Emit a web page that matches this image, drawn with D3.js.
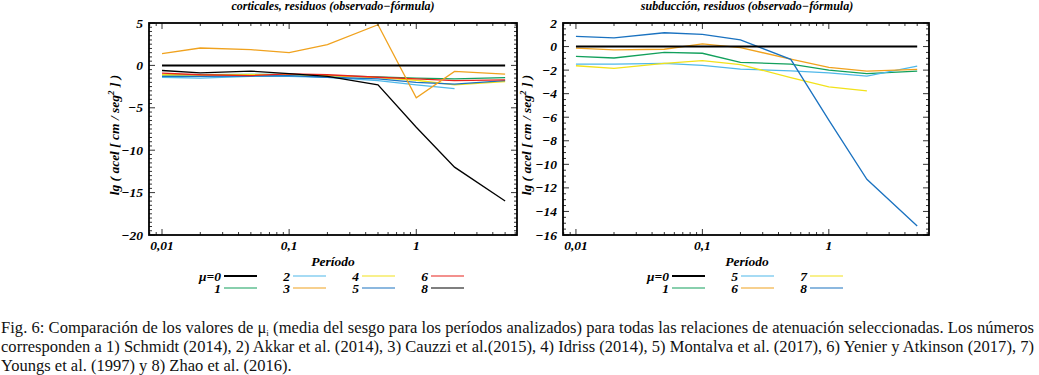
<!DOCTYPE html>
<html>
<head>
<meta charset="utf-8">
<script src="https://cdn.jsdelivr.net/npm/d3@7"></script>
<style>
  body { margin: 0; background: #fff; }
</style>
</head>
<body>
<svg id="body" width="1039" height="375"></svg>
<script>
// periodos (s)
let periodos = [0.01, 0.02, 0.05, 0.1, 0.2, 0.5, 1, 2, 5];

// corticales
let cort0 = [0, 0, 0, 0, 0, 0, 0, 0, 0];
let cort1 = [-1.1, -1.1, -1.05, -1.05, -1.2, -1.35, -1.5, -1.6, -1.45];
let cort2 = [-1.4, -1.5, -1.3, -1.3, -1.4, -1.8, -2.3, -2.75];
let cort3 = [1.38, 2.05, 1.85, 1.5, 2.44, 4.8, -3.82, -0.71, -1.02];
let cort4 = [-1.1, -1.15, -1.1, -1.1, -1.2, -1.45, -1.75, -2.3, -1.9];
let cort5 = [-1.3, -1.3, -1.25, -1.2, -1.4, -1.6, -2.0, -2.2, -1.8];
let cort6 = [-0.9, -1.1, -1.2, -1.0, -1.1, -1.4, -1.6, -1.8, -1.7];
let cort8 = [-0.6, -0.87, -0.67, -0.98, -1.3, -2.28, -7.3, -12.0, -16.0];

// subduccion
let sub0 = [0, 0, 0, 0, 0, 0, 0, 0, 0];
let sub1 = [-0.83, -0.97, -0.49, -0.57, -1.34, -1.49, -2.0, -2.29, -2.09];
let sub5 = [-1.49, -1.49, -1.43, -1.6, -1.91, -2.06, -2.23, -2.51, -1.66];
let sub6 = [-0.14, -0.29, -0.23, 0.23, -0.09, -1.06, -1.77, -2.09, -1.94];
let sub7 = [-1.63, -1.86, -1.43, -1.2, -1.54, -2.63, -3.43, -3.77];
let sub8 = [0.86, 0.74, 1.17, 1.03, 0.57, -1.09, -6.25, -11.27, -15.23];

let colores = {
    "0": "#000000", "1": "#12a05c", "2": "#4fb8ea", "3": "#f0a21e",
    "4": "#f2e21a", "5": "#1a72c0", "6": "#e8231c", "7": "#f2e21a", "8": "#000000"
};
let coloresSub = { "0": "#000000", "1": "#12a05c", "5": "#4fb8ea", "6": "#f0a21e", "7": "#f2e21a", "8": "#1a72c0" };

let serif = "'Liberation Serif', 'Times New Roman', serif";
let svg = d3.select("#body");
svg.append("rect").attr("width", 1039).attr("height", 375).attr("fill", "#fff");

// texto en negrita cursiva
function lab(sel) {
    return sel.append("text")
        .style("font-family", serif)
        .style("font-weight", "bold")
        .style("font-style", "italic");
}

function panel(cfg) {
    let x = d3.scaleLog().domain([0.0079, 6.2]).range([cfg.x0, cfg.x1]);
    let y = d3.scaleLinear().domain(cfg.ydom).range([235, 23]);
    let g = svg.append("g");

    // lineas
    let line = d3.line().x((d, i) => x(periodos[i])).y(d => y(d));
    cfg.series.forEach(s => {
        g.append("path")
            .datum(s.vals)
            .attr("d", line)
            .attr("fill", "none")
            .attr("stroke", s.color)
            .attr("stroke-width", s.w || 1.3);
    });

    // ticks
    let majX = [0.01, 0.1, 1];
    let minX = [];
    [0.001, 0.01, 0.1, 1].forEach(dec => {
        for (let k = 2; k <= 9; k++) {
            let v = dec * k;
            if (v > 0.0079 && v < 6.2) minX.push(v);
        }
    });
    let ticks = g.append("g").attr("stroke", "#000").attr("stroke-width", 0.8);
    majX.forEach(v => {
        ticks.append("line").attr("x1", x(v)).attr("x2", x(v)).attr("y1", 235).attr("y2", 229);
        ticks.append("line").attr("x1", x(v)).attr("x2", x(v)).attr("y1", 23).attr("y2", 29);
    });
    minX.forEach(v => {
        ticks.append("line").attr("x1", x(v)).attr("x2", x(v)).attr("y1", 235).attr("y2", 232);
        ticks.append("line").attr("x1", x(v)).attr("x2", x(v)).attr("y1", 23).attr("y2", 26);
    });
    d3.range(cfg.ydom[0], cfg.ydom[1] + 0.001, cfg.minorStep).forEach(v => {
        let major = cfg.yticks.some(t => Math.abs(t - v) < 1e-6);
        let len = major ? 6 : 3;
        ticks.append("line").attr("x1", cfg.x0).attr("x2", cfg.x0 + len).attr("y1", y(v)).attr("y2", y(v));
        ticks.append("line").attr("x1", cfg.x1).attr("x2", cfg.x1 - len).attr("y1", y(v)).attr("y2", y(v));
    });

    // marco
    g.append("rect")
        .attr("x", cfg.x0).attr("y", 23)
        .attr("width", cfg.x1 - cfg.x0).attr("height", 212)
        .attr("fill", "none").attr("stroke", "#000").attr("stroke-width", 1.8);

    // etiquetas de ejes
    cfg.yticks.forEach(d => {
        lab(g).attr("x", cfg.x0 - 6).attr("y", y(d) + 4.5)
            .attr("text-anchor", "end").attr("font-size", 13.5)
            .text(d < 0 ? "\u2212" + Math.abs(d) : d);
    });
    majX.forEach(d => {
        lab(g).attr("x", x(d)).attr("y", 250)
            .attr("text-anchor", "middle").attr("font-size", 13.5)
            .text(String(d).replace(".", ","));
    });

    lab(g).attr("x", cfg.titleX).attr("y", 10)
        .attr("text-anchor", "middle").attr("font-size", 12)
        .text(cfg.title);

    let yl = lab(g)
        .attr("transform", "translate(" + cfg.ylabX + ",135) rotate(-90)")
        .attr("text-anchor", "middle").attr("font-size", 13.5);
    yl.append("tspan").text("lg ( acel [ cm / seg");
    yl.append("tspan").attr("dy", -5).attr("font-size", 9).text("2");
    yl.append("tspan").attr("dy", 5).text(" ] )");

    lab(g).attr("x", cfg.titleX).attr("y", 266)
        .attr("text-anchor", "middle").attr("font-size", 13.5)
        .text("Período");

    // leyenda
    cfg.legend.forEach(it => {
        lab(g).attr("x", it.x).attr("y", it.row === 0 ? 280.5 : 292.5)
            .attr("text-anchor", "end").attr("font-size", 13.5)
            .text(it.label);
        g.append("line")
            .attr("x1", it.x + 3).attr("x2", it.x + 36)
            .attr("y1", it.row === 0 ? 276 : 288).attr("y2", it.row === 0 ? 276 : 288)
            .attr("stroke", it.color).attr("stroke-width", it.label === "μ=0" ? 1.8 : 1.2);
    });
}

panel({
    x0: 149, x1: 517, ydom: [-20, 5], yticks: [-20, -15, -10, -5, 0, 5], minorStep: 0.5,
    title: "corticales, residuos (observado\u2212fórmula)", titleX: 333, ylabX: 119,
    series: [
        { vals: cort1, color: colores["1"] },
        { vals: cort2, color: colores["2"] },
        { vals: cort4, color: colores["4"] },
        { vals: cort5, color: colores["5"] },
        { vals: cort6, color: colores["6"] },
        { vals: cort3, color: colores["3"] },
        { vals: cort8, color: colores["8"] },
        { vals: cort0, color: colores["0"], w: 2 }
    ],
    legend: [
        { label: "μ=0", x: 221, row: 0, color: colores["0"] },
        { label: "1", x: 221, row: 1, color: colores["1"] },
        { label: "2", x: 290, row: 0, color: colores["2"] },
        { label: "3", x: 290, row: 1, color: colores["3"] },
        { label: "4", x: 359, row: 0, color: colores["4"] },
        { label: "5", x: 359, row: 1, color: colores["5"] },
        { label: "6", x: 428, row: 0, color: colores["6"] },
        { label: "8", x: 428, row: 1, color: colores["8"] }
    ]
});

panel({
    x0: 563, x1: 929, ydom: [-16, 2], yticks: [-16, -14, -12, -10, -8, -6, -4, -2, 0, 2], minorStep: 0.5,
    title: "subducción, residuos (observado\u2212fórmula)", titleX: 747, ylabX: 531,
    series: [
        { vals: sub1, color: coloresSub["1"] },
        { vals: sub5, color: coloresSub["5"] },
        { vals: sub7, color: coloresSub["7"] },
        { vals: sub6, color: coloresSub["6"] },
        { vals: sub8, color: coloresSub["8"] },
        { vals: sub0, color: coloresSub["0"], w: 2 }
    ],
    legend: [
        { label: "μ=0", x: 669, row: 0, color: coloresSub["0"] },
        { label: "1", x: 669, row: 1, color: coloresSub["1"] },
        { label: "5", x: 738, row: 0, color: coloresSub["5"] },
        { label: "6", x: 738, row: 1, color: coloresSub["6"] },
        { label: "7", x: 807, row: 0, color: coloresSub["7"] },
        { label: "8", x: 807, row: 1, color: coloresSub["8"] }
    ]
});

// pie de figura
let cap = svg.append("g").attr("font-size", 16.5).attr("fill", "#111");
let l1 = cap.append("text").style("font-family", serif).attr("x", 1).attr("y", 332.5)
    .attr("textLength", 1033).attr("lengthAdjust", "spacing");
l1.append("tspan").text("Fig. 6: Comparación de los valores de μ");
l1.append("tspan").attr("dy", 3).attr("font-size", 9).text("i");
l1.append("tspan").attr("dy", -3).text(" (media del sesgo para los períodos analizados) para todas las relaciones de atenuación seleccionadas. Los números");
cap.append("text").style("font-family", serif).attr("x", 1).attr("y", 351.5)
    .attr("textLength", 1033).attr("lengthAdjust", "spacing")
    .text("corresponden a 1) Schmidt (2014), 2) Akkar et al. (2014), 3) Cauzzi et al.(2015), 4) Idriss (2014), 5) Montalva et al. (2017), 6) Yenier y Atkinson (2017), 7)");
cap.append("text").style("font-family", serif).attr("x", 1).attr("y", 370.5)
    .text("Youngs et al. (1997) y 8) Zhao et al. (2016).");
</script>
</body>
</html>
